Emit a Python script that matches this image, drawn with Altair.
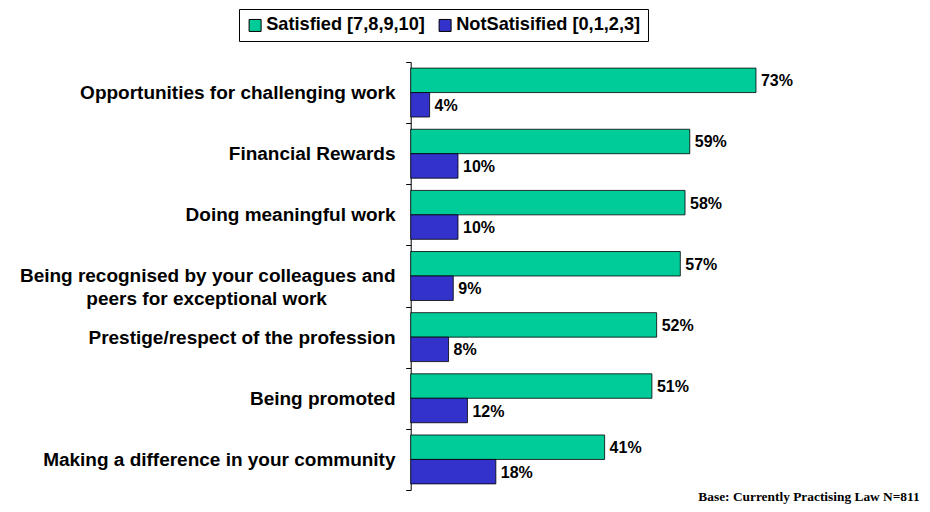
import altair as alt
import pandas as pd

categories = [
    "Opportunities for challenging work",
    "Financial Rewards",
    "Doing meaningful work",
    "Being recognised by your colleagues and\npeers for exceptional work",
    "Prestige/respect of the profession",
    "Being promoted",
    "Making a difference in your community",
]
satisfied = [73, 59, 58, 57, 52, 51, 41]
not_satisfied = [4, 10, 10, 9, 8, 12, 18]
series = ["Satisfied [7,8,9,10]", "NotSatisified [0,1,2,3]"]
colors = ["#00CC99", "#3333CC"]
note = "Base: Currently Practising Law N=811"

rows = []
for c, s, n in zip(categories, satisfied, not_satisfied):
    rows.append({"cat": c, "series": series[0], "value": s})
    rows.append({"cat": c, "series": series[1], "value": n})
df = pd.DataFrame(rows)
df["label"] = df["value"].astype(str) + "%"

SANS = "Liberation Sans, Arial, sans-serif"
W, H = 473, 428

# multi-line label: second line visually centred under the first
# (non-breaking spaces kept from trimming by a trailing zero-width space)
TRAIL = "\u00a0" * 13 + "\u200b"
label_expr = (
    "indexof(datum.label, '\\n') >= 0 ? "
    "[split(datum.label, '\\n')[0], split(datum.label, '\\n')[1] + '" + TRAIL + "'] "
    ": datum.label"
)

y_enc = alt.Y(
    "cat:N",
    sort=categories,
    scale=alt.Scale(paddingInner=0, paddingOuter=0),
    axis=alt.Axis(
        title=None,
        labelExpr=label_expr,
        labelFont=SANS,
        labelFontSize=19,
        labelFontWeight="bold",
        labelColor="black",
        labelLimit=420,
        labelPadding=10.7,
        labelLineHeight=23,
        tickBand="extent",
        tickSize=5,
        tickColor="black",
        tickWidth=1,
        domainColor="black",
        domainWidth=1,
        grid=False,
    ),
)
yoff = alt.YOffset("series:N", sort=series,
                   scale=alt.Scale(domain=series, paddingOuter=0.25, paddingInner=0))
x_enc = alt.X("value:Q", scale=alt.Scale(domain=[0, 100], nice=False), axis=None)

base = alt.Chart(df)

bars = base.mark_bar(stroke="black", strokeWidth=0.8).encode(
    x=x_enc,
    y=y_enc,
    yOffset=yoff,
    color=alt.Color(
        "series:N",
        sort=series,
        scale=alt.Scale(domain=series, range=colors),
        legend=alt.Legend(
            title=None,
            orient="none",
            legendX=-171.7,
            legendY=-53,
            direction="horizontal",
            symbolType="square",
            symbolSize=144,
            symbolStrokeColor="black",
            symbolStrokeWidth=1,
            symbolOpacity=1,
            labelFont=SANS,
            labelFontSize=18.2,
            labelFontWeight="bold",
            labelColor="black",
            labelOffset=2,
            columnPadding=11,
            padding=7,
            strokeColor="black",
            labelLimit=400,
        ),
    ),
)

labels = base.mark_text(
    align="left", baseline="middle", dx=5, dy=1,
    font=SANS, fontSize=16, fontWeight="bold", color="black",
).encode(
    x=x_enc,
    y=alt.Y("cat:N", sort=categories),
    yOffset=yoff,
    text="label:N",
)

chart = alt.layer(bars, labels).properties(
    width=W,
    height=H,
    autosize=alt.AutoSizeParams(type="none"),
    padding={"left": 402.7, "top": 54, "right": 38, "bottom": 14},
    title=alt.TitleParams(
        note,
        orient="bottom",
        anchor="end",
        frame="group",
        font="Liberation Serif, Times New Roman, serif",
        fontSize=13.4,
        fontWeight="bold",
        color="black",
        offset=0,
        dx=36,
    ),
).configure(
    background="white",
    view=alt.ViewConfig(strokeWidth=0, stroke="transparent"),
)

chart.save("out.html", embed_options={"renderer": "svg", "actions": False})
